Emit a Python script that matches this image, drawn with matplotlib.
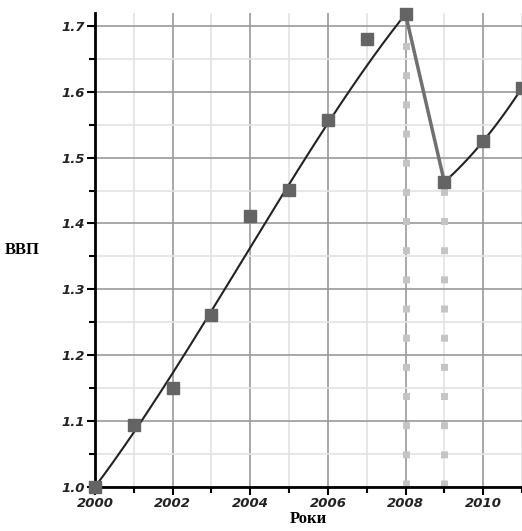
import numpy as np
from matplotlib import pyplot as plt
from matplotlib.ticker import MultipleLocator

# GDP index
years = [2000, 2001, 2002, 2003, 2004, 2005, 2006, 2007, 2008, 2009, 2010, 2011]
gdp = [1.0, 1.094, 1.150, 1.261, 1.412, 1.451, 1.557, 1.680, 1.718, 1.463, 1.525, 1.606]

# trend pieces: growth before the crisis, recovery after it
pre_years, pre_gdp = years[:9], gdp[:9]
post_years, post_gdp = years[9:], gdp[9:]

fig = plt.figure(figsize=(5.22, 5.31), dpi=100)
ax = fig.add_axes([0.182, 0.083, 0.818, 0.893])

# grid
ax.xaxis.set_major_locator(MultipleLocator(2))
ax.xaxis.set_minor_locator(MultipleLocator(1))
ax.yaxis.set_major_locator(MultipleLocator(0.1))
ax.yaxis.set_minor_locator(MultipleLocator(0.05))
ax.grid(which='major', color='#9a9a9a', linewidth=1.2)
ax.grid(which='minor', color='#e3e3e3', linewidth=1.2)
ax.set_axisbelow(True)

# dotted drop lines at 2008 and 2009
for i in (8, 9):
    ax.plot([years[i], years[i]], [1.0, gdp[i]], color='#c4c4c4', linewidth=5,
            linestyle=(0, (1, 3.2)), dash_capstyle='butt', zorder=2)

# fitted trend curves (ends weighted so the curve meets the end points)
w1 = [20] + [3, 1, 3, 1, 3, 3, 1] + [20]
c1 = np.polyfit(pre_years, pre_gdp, 3, w=w1)
xs1 = np.linspace(pre_years[0], pre_years[-1], 200)
ax.plot(xs1, np.polyval(c1, xs1), color='#222222', linewidth=1.5, zorder=3)
c2 = np.polyfit(post_years, post_gdp, 2)
xs2 = np.linspace(post_years[0], post_years[-1], 100)
ax.plot(xs2, np.polyval(c2, xs2), color='#222222', linewidth=1.5, zorder=3)

# crisis drop
ax.plot(years[8:10], gdp[8:10], color='#707070', linewidth=2.5, zorder=3)

# data points
ax.plot(years, gdp, linestyle='none', marker='s', markersize=9,
        color='#646464', zorder=4, clip_on=False)

ax.set_xlim(2000, 2011)
ax.set_ylim(1.0, 1.72)
ax.set_xticks([2000, 2002, 2004, 2006, 2008, 2010])
ax.set_yticks([1.0, 1.1, 1.2, 1.3, 1.4, 1.5, 1.6, 1.7])
ax.set_yticklabels(['1.0', '1.1', '1.2', '1.3', '1.4', '1.5', '1.6', '1.7'])

for s in ('top', 'right'):
    ax.spines[s].set_visible(False)
for s in ('left', 'bottom'):
    ax.spines[s].set_linewidth(2)

ax.tick_params(which='major', length=6, width=1.5, direction='out', pad=1)
ax.tick_params(which='minor', length=4, width=1.5, direction='out')
for lab in ax.get_xticklabels() + ax.get_yticklabels():
    lab.set_fontweight('bold')
    lab.set_fontstyle('italic')
    lab.set_fontsize(9.5)
    lab.set_color('#222222')

fig.text(0.042, 0.53, 'ВВП', family='Liberation Serif', fontweight='bold',
         fontsize=12, ha='center', va='center')
fig.text(0.59, 0.022, 'Роки', family='Liberation Serif', fontweight='bold',
         fontsize=12, ha='center', va='center')

plt.savefig('out.png', dpi=100)
